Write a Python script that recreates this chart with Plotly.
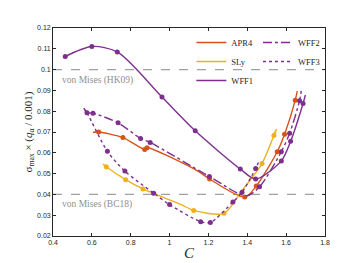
import plotly.graph_objects as go

# ---- data ----
apr4_line_c = [0.606, 0.635, 0.760, 0.872, 0.884, 1.146, 1.206, 1.387, 1.446, 1.554, 1.592, 1.647, 1.657]
apr4_line_s = [0.0699, 0.0700, 0.0673, 0.0616, 0.0624, 0.0512, 0.0474, 0.0387, 0.0440, 0.0605, 0.0689, 0.0853, 0.0896]
apr4_mark_c = [0.635, 0.760, 0.872, 0.884, 1.206, 1.387, 1.446, 1.554, 1.592, 1.647]
apr4_mark_s = [0.0700, 0.0673, 0.0616, 0.0624, 0.0474, 0.0387, 0.0440, 0.0605, 0.0689, 0.0853]

sly_line_c = [0.657, 0.674, 0.774, 0.863, 1.06, 1.124, 1.28, 1.37, 1.476, 1.537, 1.550]
sly_line_s = [0.0546, 0.0533, 0.0471, 0.0426, 0.0351, 0.0323, 0.0309, 0.0415, 0.0549, 0.0683, 0.0714]
sly_mark_c = [0.674, 0.774, 0.863, 1.124, 1.28, 1.476, 1.537]
sly_mark_s = [0.0533, 0.0471, 0.0426, 0.0323, 0.0309, 0.0549, 0.0683]

wff1_line_c = [0.463, 0.600, 0.731, 0.961, 1.132, 1.364, 1.443, 1.575, 1.623, 1.687, 1.699]
wff1_line_s = [0.1063, 0.1111, 0.1085, 0.0868, 0.0706, 0.0522, 0.0474, 0.0561, 0.0655, 0.0837, 0.0878]
wff1_mark_c = [0.463, 0.600, 0.731, 0.961, 1.132, 1.364, 1.443, 1.575, 1.623, 1.687]
wff1_mark_s = [0.1063, 0.1111, 0.1085, 0.0868, 0.0706, 0.0522, 0.0474, 0.0561, 0.0655, 0.0837]

wff2_line_c = [0.575, 0.606, 0.735, 0.851, 0.900, 1.205, 1.395, 1.463, 1.575, 1.618, 1.669, 1.678]
wff2_line_s = [0.0792, 0.0790, 0.0744, 0.0669, 0.0650, 0.0486, 0.0393, 0.0437, 0.0605, 0.0694, 0.0850, 0.0900]
wff2_mark_c = [0.575, 0.606, 0.735, 0.851, 0.900, 1.205, 1.463, 1.575, 1.618, 1.669]
wff2_mark_s = [0.0792, 0.0790, 0.0744, 0.0669, 0.0650, 0.0486, 0.0437, 0.0605, 0.0694, 0.0850]

wff3_line_c = [0.558, 0.575, 0.680, 0.770, 0.918, 1.000, 1.160, 1.210, 1.326, 1.373, 1.443, 1.458]
wff3_line_s = [0.0815, 0.0792, 0.0607, 0.0512, 0.0406, 0.0351, 0.0269, 0.0265, 0.0364, 0.0410, 0.0524, 0.0555]
wff3_mark_c = [0.680, 0.770, 0.918, 1.000, 1.160, 1.210, 1.326, 1.373, 1.443]
wff3_mark_s = [0.0607, 0.0512, 0.0406, 0.0351, 0.0269, 0.0265, 0.0364, 0.0410, 0.0524]

von_mises_levels = [0.10, 0.04]
von_mises_labels = ["von Mises (HK09)", "von Mises (BC18)"]

x_ticks = [0.4, 0.6, 0.8, 1.0, 1.2, 1.4, 1.6, 1.8]
x_tick_labels = ["0.4", "0.6", "0.8", "1", "1.2", "1.4", "1.6", "1.8"]
y_ticks = [0.02, 0.03, 0.04, 0.05, 0.06, 0.07, 0.08, 0.09, 0.10, 0.11, 0.12]
y_tick_labels = ["0.02", "0.03", "0.04", "0.05", "0.06", "0.07", "0.08", "0.09", "0.1", "0.11", "0.12"]

ORANGE = "#D95319"
YELLOW = "#EDB120"
PURPLE = "#7E2F8E"
SERIF = "Liberation Serif, DejaVu Serif, serif"

series = [
    ("APR4", apr4_line_c, apr4_line_s, apr4_mark_c, apr4_mark_s, ORANGE, "solid", "legend"),
    ("SLy", sly_line_c, sly_line_s, sly_mark_c, sly_mark_s, YELLOW, "solid", "legend"),
    ("WFF1", wff1_line_c, wff1_line_s, wff1_mark_c, wff1_mark_s, PURPLE, "solid", "legend"),
    ("WFF2", wff2_line_c, wff2_line_s, wff2_mark_c, wff2_mark_s, PURPLE, "dashdot", "legend2"),
    ("WFF3", wff3_line_c, wff3_line_s, wff3_mark_c, wff3_mark_s, PURPLE, "dot", "legend2"),
]

fig = go.Figure()

for lvl in von_mises_levels:
    fig.add_hline(y=lvl, line=dict(color="#A0A0A0", width=1.2, dash="dash"), layer="below")

for name, lc, ls, mc, ms, col, dash, leg in series:
    fig.add_trace(go.Scatter(
        x=lc, y=ls, mode="lines", name=name, legend=leg,
        line=dict(color=col, width=1.4, dash=dash, shape="spline", smoothing=0.8),
        showlegend=True,
    ))
    fig.add_trace(go.Scatter(
        x=mc, y=ms, mode="markers", showlegend=False,
        marker=dict(color=col, size=5, line=dict(width=0)),
        hoverinfo="skip",
    ))

# arrowheads at curve ends, oriented along the last segment of each curve
arrow_ends = [
    (sly_line_c, sly_line_s, YELLOW, "start"),
    (sly_line_c, sly_line_s, YELLOW, "end"),
    (wff3_line_c, wff3_line_s, PURPLE, "start"),
    (apr4_line_c, apr4_line_s, ORANGE, "start"),
]
for lc, ls, col, where in arrow_ends:
    if where == "end":
        xs, ys = [lc[-2], lc[-1]], [ls[-2], ls[-1]]
    else:
        xs, ys = [lc[1], lc[0]], [ls[1], ls[0]]
    fig.add_trace(go.Scatter(
        x=xs, y=ys, mode="markers", showlegend=False, hoverinfo="skip",
        marker=dict(symbol=["circle", "arrow"], size=[0, 7], color=col,
                    angleref="previous", line=dict(width=0)),
    ))

for lvl, lab in zip(von_mises_levels, von_mises_labels):
    fig.add_annotation(x=0.435, y=lvl, xref="x", yref="y", text=lab, showarrow=False,
                       xanchor="left", yanchor="top", yshift=-3,
                       font=dict(family=SERIF, size=9.5, color="#909090"))

leg_common = dict(
    orientation="v", yanchor="top", xanchor="right",
    font=dict(family=SERIF, size=8.5, color="#262626"),
    bgcolor="rgba(255,255,255,0)", tracegroupgap=0, itemwidth=30,
)
fig.update_layout(
    width=350, height=263,
    margin=dict(l=45, r=33, t=20, b=29),
    paper_bgcolor="white", plot_bgcolor="white",
    font=dict(family="Liberation Sans, Arial, sans-serif", size=7, color="#262626"),
    legend=dict(x=0.755, y=1.0, **leg_common),
    legend2=dict(x=1.0, y=1.0, **leg_common),
)
fig.update_xaxes(
    range=[0.4, 1.8], tickvals=x_ticks, ticktext=x_tick_labels,
    ticks="inside", ticklen=3, tickcolor="#262626", mirror="ticks",
    showline=True, linecolor="#262626", linewidth=0.8, showgrid=False, zeroline=False,
    title=dict(text="<i>C</i>", font=dict(family=SERIF, size=15), standoff=2),
)
fig.update_yaxes(
    range=[0.02, 0.12], tickvals=y_ticks, ticktext=y_tick_labels,
    ticks="inside", ticklen=3, tickcolor="#262626", mirror="ticks",
    showline=True, linecolor="#262626", linewidth=0.8, showgrid=False, zeroline=False,
    title=dict(text="σ<sub>max</sub> × (<i>q</i><sub>α</sub> / 0.001)", font=dict(family=SERIF, size=11), standoff=2),
)

fig.write_html("out.html")
